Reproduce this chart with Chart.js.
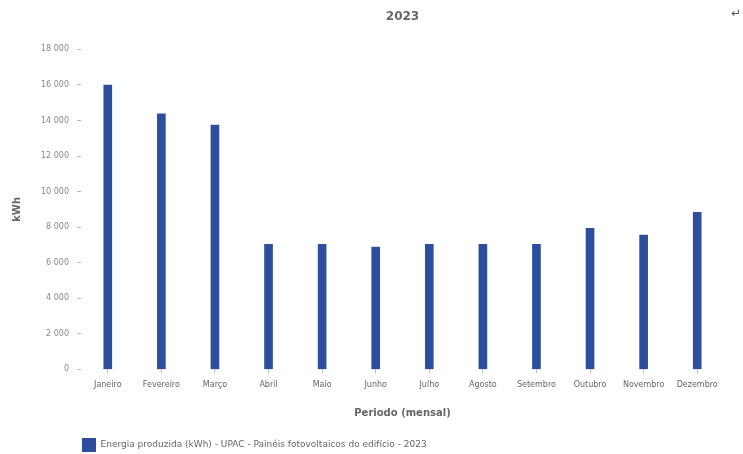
<!DOCTYPE html>
<html>
<head>
<meta charset="utf-8">
<script src="https://cdn.jsdelivr.net/npm/chart.js@4/dist/chart.umd.min.js"></script>
<style>
html,body{margin:0;padding:0;background:#fff;}
#wrap{width:743px;height:454px;position:relative;}
#icon{position:absolute;right:2px;top:6px;font:12px "DejaVu Sans";color:#555;}
</style>
</head>
<body>
<div id="wrap"><canvas id="c" width="743" height="454"></canvas><div id="icon">&#8629;</div></div>
<script>
const categories = ["Janeiro","Fevereiro","Março","Abril","Maio","Junho","Julho","Agosto","Setembro","Outubro","Novembro","Dezembro"];
const energia = [16000, 14370, 13750, 7040, 7040, 6880, 7040, 7040, 7040, 7940, 7550, 8830];
const seriesLabel = "Energia produzida (kWh) - UPAC - Painéis fotovoltaicos do edifício - 2023";
const chartTitle = "2023";
const yTitle = "kWh";
const xTitle = "Periodo (mensal)";

function fmt(v){ return String(v).replace(/\B(?=(\d{3})+(?!\d))/g, " "); }

new Chart(document.getElementById('c'), {
  type: 'bar',
  data: {
    labels: categories,
    datasets: [{
      label: seriesLabel,
      data: energia,
      backgroundColor: '#2d4d9d',
      borderWidth: 0,
      barThickness: 8
    }]
  },
  options: {
    responsive: false,
    animation: false,
    layout: { padding: { left: 7, right: 19, top: 4, bottom: -8 } },
    plugins: {
      title: { display: true, text: chartTitle, fullSize: false, color: '#666', font: { family: 'DejaVu Sans', size: 12, weight: 'bold' }, padding: { top: 6, bottom: 25 } },
      legend: { position: 'bottom', align: 'start', fullSize: false, labels: { color: '#666', font: { family: 'DejaVu Sans', size: 9 }, boxWidth: 14, boxHeight: 14, padding: 1 } },
      tooltip: { enabled: false }
    },
    scales: {
      x: {
        grid: { display: true, drawOnChartArea: false, offset: false, tickLength: 4, color: '#b8c0dc' },
        border: { display: false },
        ticks: { color: '#666', font: { family: 'DejaVu Sans', size: 8 }, maxRotation: 0, autoSkip: false, padding: 7 },
        title: { display: true, text: xTitle, color: '#666', font: { family: 'DejaVu Sans', size: 10, weight: 'bold' }, padding: { top: 10, bottom: 18 } }
      },
      y: {
        min: 0, max: 18000,
        ticks: { stepSize: 2000, color: '#888', font: { family: 'DejaVu Sans', size: 8 }, callback: v => fmt(v), padding: 8 },
        grid: { display: true, drawOnChartArea: false, tickLength: 4, color: '#bbb' },
        border: { display: false },
        title: { display: true, text: yTitle, color: '#666', font: { family: 'DejaVu Sans', size: 10, weight: 'bold' }, padding: { top: 4, bottom: 10 } }
      }
    }
  }
});
</script>
</body>
</html>
